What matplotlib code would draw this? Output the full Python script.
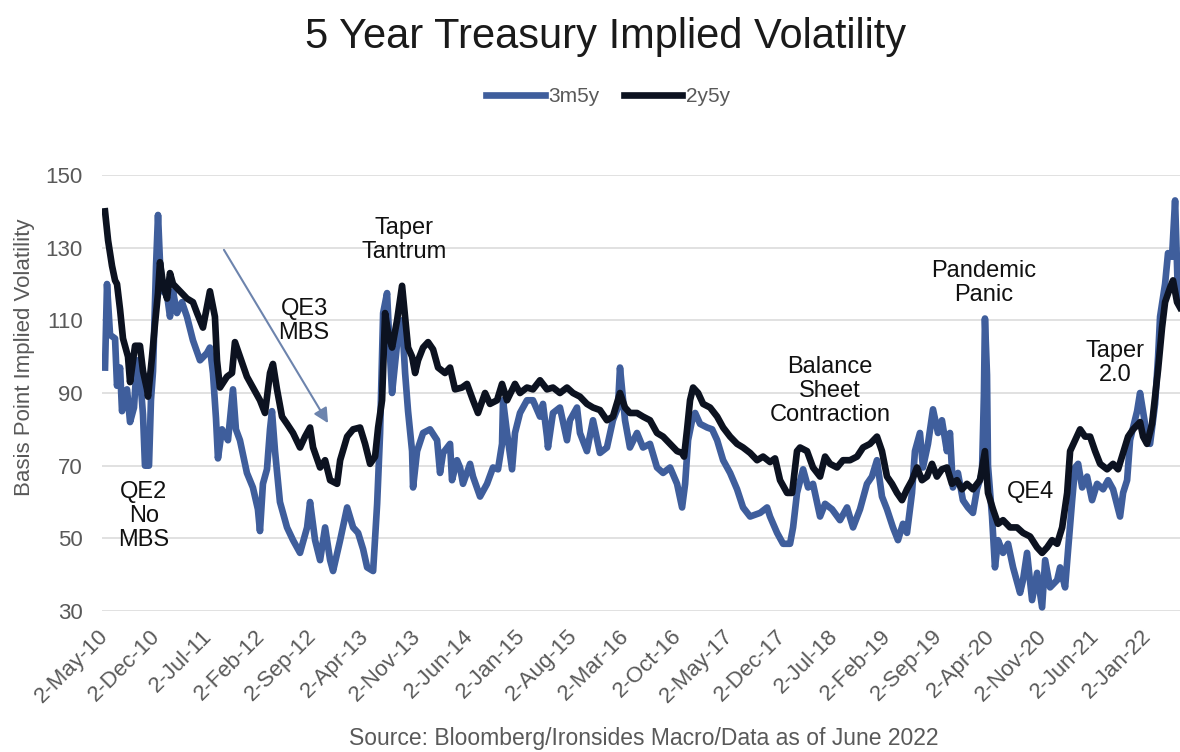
import matplotlib
matplotlib.use("Agg")
import matplotlib.pyplot as plt
from datetime import datetime
import pandas as pd

plt.rcParams['font.family'] = ['Liberation Sans', 'DejaVu Sans']

# ---- data -----------------------------------------------------------------
# 3m5y swaption implied vol (bp); time given as decimal year
t_3m5y = [2010.336, 2010.358, 2010.392, 2010.448, 2010.470, 2010.504, 2010.526, 2010.582,
          2010.616, 2010.660, 2010.694, 2010.727, 2010.761, 2010.783, 2010.828, 2010.850,
          2010.873, 2010.907, 2010.929, 2010.951, 2010.985, 2011.030, 2011.063, 2011.097,
          2011.141, 2011.197, 2011.253, 2011.320, 2011.399, 2011.477, 2011.510, 2011.544,
          2011.578, 2011.600, 2011.645, 2011.712, 2011.768, 2011.801, 2011.846, 2011.924,
          2011.991, 2012.047, 2012.070, 2012.103, 2012.148, 2012.182, 2012.204, 2012.238,
          2012.293, 2012.372, 2012.439, 2012.517, 2012.596, 2012.629, 2012.685, 2012.741,
          2012.797, 2012.853, 2012.886, 2012.965, 2013.043, 2013.110, 2013.166, 2013.222,
          2013.267, 2013.334, 2013.379, 2013.412, 2013.446, 2013.490, 2013.524, 2013.546,
          2013.602, 2013.658, 2013.692, 2013.725, 2013.770, 2013.781, 2013.826, 2013.893,
          2013.971, 2014.050, 2014.083, 2014.117, 2014.195, 2014.217, 2014.273, 2014.307,
          2014.340, 2014.419, 2014.452, 2014.531, 2014.609, 2014.676, 2014.732, 2014.777,
          2014.788, 2014.833, 2014.889, 2014.922, 2014.978, 2015.056, 2015.123, 2015.202,
          2015.235, 2015.280, 2015.291, 2015.347, 2015.425, 2015.504, 2015.537, 2015.616,
          2015.649, 2015.727, 2015.795, 2015.873, 2015.951, 2016.018, 2016.074, 2016.097,
          2016.153, 2016.208, 2016.287, 2016.354, 2016.432, 2016.510, 2016.578, 2016.656,
          2016.734, 2016.790, 2016.824, 2016.857, 2016.902, 2016.936, 2016.991, 2017.070,
          2017.126, 2017.182, 2017.249, 2017.327, 2017.405, 2017.472, 2017.551, 2017.663,
          2017.741, 2017.774, 2017.853, 2017.920, 2017.998, 2018.032, 2018.076, 2018.144,
          2018.200, 2018.255, 2018.334, 2018.390, 2018.468, 2018.557, 2018.636, 2018.703,
          2018.781, 2018.859, 2018.915, 2018.971, 2019.027, 2019.083, 2019.150, 2019.206,
          2019.262, 2019.307, 2019.363, 2019.396, 2019.452, 2019.486, 2019.542, 2019.587,
          2019.598, 2019.654, 2019.698, 2019.754, 2019.788, 2019.821, 2019.877, 2019.933,
          2019.989, 2020.045, 2020.090, 2020.146, 2020.168, 2020.179, 2020.202, 2020.213,
          2020.258, 2020.291, 2020.325, 2020.381, 2020.437, 2020.493, 2020.571, 2020.604,
          2020.649, 2020.705, 2020.761, 2020.817, 2020.851, 2020.906, 2020.985, 2021.018,
          2021.074, 2021.108, 2021.153, 2021.186, 2021.220, 2021.265, 2021.320, 2021.376,
          2021.432, 2021.499, 2021.555, 2021.611, 2021.689, 2021.723, 2021.768, 2021.801,
          2021.835, 2021.880, 2021.913, 2021.969, 2022.025, 2022.081, 2022.115, 2022.137,
          2022.193, 2022.226, 2022.271, 2022.305, 2022.338, 2022.361]
v_3m5y = [97, 120, 106, 105, 92, 97, 85, 91,
          82, 86, 99, 95, 84, 70, 70, 88,
          96, 125, 139, 126, 118, 117, 111, 118,
          112, 115, 111, 104.5, 99, 101, 102.5, 95.5,
          83, 72, 80, 77, 91, 80, 77, 68,
          64, 58, 52, 65, 69, 80, 85, 74,
          60, 53, 49.5, 46, 53, 60, 49.5, 44,
          53, 44, 41, 49.5, 58.5, 53, 51.5, 47,
          42, 41, 59.5, 79, 112, 117.5, 100, 90,
          103.5, 110, 95.5, 85, 74, 64, 74, 79,
          80, 77, 68, 73.5, 76, 66, 71.5, 69.5,
          65, 70.5, 67, 61.5, 65, 69.5, 69, 76,
          88, 79, 69, 79, 84.5, 88, 88, 83.5,
          87, 78, 75, 84.5, 86, 77, 82.5, 86,
          79, 74, 82.5, 73.5, 75, 82.5, 86, 97,
          82.5, 75, 79, 75, 76, 69.5, 68, 69.5,
          65, 58.5, 65, 77, 82.5, 84.5, 81.5, 80.5,
          80, 77, 71.5, 68, 63.5, 58.5, 56, 57,
          58.5, 56, 51.5, 48.5, 48.5, 53, 62.5, 69,
          64, 65, 56, 59.5, 58, 55, 58.5, 53,
          58, 65, 67, 71.5, 61.5, 58, 53, 49.5,
          54, 51.5, 62.5, 74, 79, 69.5, 76, 83.5,
          85.5, 79, 82.5, 74, 79, 64, 68, 60.5,
          58.5, 57, 63.5, 68, 90, 110.5, 95, 70,
          56, 42, 49.5, 46, 48.5, 42, 35, 38.5,
          46, 33, 40.5, 31, 44, 36.5, 38.5, 42,
          36.5, 47, 60.5, 69.5, 70.5, 64, 67, 60.5,
          65, 63.5, 66, 63.5, 56, 62.5, 66, 77,
          80.5, 85, 90, 81.5, 76, 87, 100, 111,
          120, 128.5, 127.5, 143, 116, 121]

# 2y5y swaption implied vol (bp)
t_2y5y = [2010.336, 2010.370, 2010.414, 2010.448, 2010.470, 2010.504, 2010.537, 2010.593,
          2010.616, 2010.672, 2010.727, 2010.761, 2010.806, 2010.817, 2010.862, 2010.895,
          2010.929, 2010.951, 2010.985, 2011.030, 2011.063, 2011.097, 2011.175, 2011.253,
          2011.320, 2011.366, 2011.399, 2011.432, 2011.510, 2011.566, 2011.589, 2011.622,
          2011.701, 2011.757, 2011.790, 2011.846, 2011.924, 2011.991, 2012.070, 2012.126,
          2012.182, 2012.215, 2012.260, 2012.316, 2012.372, 2012.439, 2012.517, 2012.573,
          2012.629, 2012.663, 2012.741, 2012.797, 2012.853, 2012.931, 2012.965, 2013.043,
          2013.110, 2013.188, 2013.244, 2013.300, 2013.356, 2013.390, 2013.434, 2013.468,
          2013.502, 2013.546, 2013.602, 2013.658, 2013.692, 2013.725, 2013.770, 2013.804,
          2013.837, 2013.893, 2013.949, 2014.005, 2014.061, 2014.139, 2014.195, 2014.251,
          2014.329, 2014.385, 2014.452, 2014.508, 2014.587, 2014.642, 2014.721, 2014.777,
          2014.833, 2014.922, 2014.978, 2015.056, 2015.123, 2015.202, 2015.280, 2015.347,
          2015.425, 2015.504, 2015.571, 2015.649, 2015.727, 2015.795, 2015.873, 2015.951,
          2016.018, 2016.097, 2016.153, 2016.208, 2016.287, 2016.354, 2016.432, 2016.510,
          2016.578, 2016.656, 2016.734, 2016.790, 2016.812, 2016.846, 2016.879, 2016.913,
          2016.969, 2017.025, 2017.103, 2017.182, 2017.249, 2017.327, 2017.405, 2017.472,
          2017.551, 2017.629, 2017.696, 2017.774, 2017.830, 2017.886, 2017.965, 2018.021,
          2018.076, 2018.110, 2018.188, 2018.255, 2018.334, 2018.390, 2018.446, 2018.524,
          2018.591, 2018.669, 2018.748, 2018.815, 2018.893, 2018.971, 2019.027, 2019.083,
          2019.139, 2019.195, 2019.251, 2019.307, 2019.363, 2019.419, 2019.475, 2019.531,
          2019.587, 2019.642, 2019.698, 2019.754, 2019.810, 2019.866, 2019.922, 2019.978,
          2020.045, 2020.123, 2020.179, 2020.213, 2020.269, 2020.325, 2020.381, 2020.459,
          2020.537, 2020.604, 2020.683, 2020.761, 2020.817, 2020.873, 2020.929, 2020.985,
          2021.041, 2021.097, 2021.130, 2021.186, 2021.242, 2021.298, 2021.354, 2021.410,
          2021.466, 2021.544, 2021.611, 2021.667, 2021.723, 2021.779, 2021.835, 2021.913,
          2021.947, 2021.991, 2022.047, 2022.081, 2022.115, 2022.159, 2022.193, 2022.249,
          2022.282, 2022.327, 2022.361]
v_2y5y = [140, 132, 125, 121, 120, 113, 105, 100,
          93, 103, 103, 96, 91, 89, 100, 109,
          117.5, 126, 120, 116, 123, 120, 118, 116,
          115, 112, 110, 108, 118, 111, 99, 91.5,
          94.5, 95.5, 104, 100, 94.5, 91.5, 88, 84.5,
          95.5, 98, 91, 83.5, 81.5, 79, 75, 78,
          80.5, 75, 69.5, 71.5, 66, 65, 71.5, 78,
          80, 80.5, 76, 70.5, 72.5, 80.5, 88, 112,
          106.5, 102.5, 110, 119.5, 111, 102.5, 100, 95.5,
          99, 102.5, 104, 102, 97, 95.5, 97, 91,
          91.5, 92.5, 88, 84.5, 90, 87, 88, 92.5,
          88, 92.5, 90, 91.5, 91, 93.5, 91, 91.5,
          90, 91.5, 90, 89, 87, 86, 85.3, 82.5,
          83.5, 90, 86, 84.5, 84.5, 83.5, 82.5, 79,
          78, 76, 74, 73.5, 72.5, 80, 88, 91.5,
          90, 87, 86, 83.5, 80.5, 78, 76, 75,
          73.5, 71.5, 72.5, 71, 72, 66, 62.5, 62.5,
          74, 75, 74, 69.5, 67, 72.5, 70.5, 69.5,
          71.5, 71.5, 72.5, 75, 76, 78, 74, 67,
          65, 62.5, 60.5, 63.5, 66, 69.5, 66, 67,
          70.5, 67, 69, 69.5, 65, 66, 63.5, 65,
          63.5, 66, 74, 62.5, 58, 54, 55, 53,
          53, 51.5, 50.5, 47.5, 46, 47.5, 49.5, 48.5,
          53, 62.5, 74, 77, 80, 78, 78, 74,
          70.5, 69, 70.5, 69, 73.5, 78, 80, 82,
          78, 76, 81.5, 89, 96.5, 108, 115, 119,
          121, 115, 113.5]

series_names = ['3m5y', '2y5y']
tick_labels = ['2-May-10', '2-Dec-10', '2-Jul-11', '2-Feb-12', '2-Sep-12', '2-Apr-13',
               '2-Nov-13', '2-Jun-14', '2-Jan-15', '2-Aug-15', '2-Mar-16', '2-Oct-16',
               '2-May-17', '2-Dec-17', '2-Jul-18', '2-Feb-19', '2-Sep-19', '2-Apr-20',
               '2-Nov-20', '2-Jun-21', '2-Jan-22']
y_ticks = [30, 50, 70, 90, 110, 130, 150]


def to_date(year):
    yr = int(year)
    start, end = datetime(yr, 1, 1), datetime(yr + 1, 1, 1)
    return start + (end - start) * (year - yr)


d_3m5y = [to_date(t) for t in t_3m5y]
d_2y5y = [to_date(t) for t in t_2y5y]
tick_dates = pd.to_datetime(tick_labels, format='%d-%b-%y')

# ---- figure ---------------------------------------------------------------
W, H = 1180, 752
fig = plt.figure(figsize=(W / 100, H / 100), dpi=100, facecolor='white')
ax = fig.add_axes([102 / W, 1 - 611 / H, (1190 - 102) / W, (611 - 175) / H])

BLUE = '#3F5E9C'
NAVY = '#0C1220'
GREY = '#595959'

l1, = ax.plot(d_3m5y, v_3m5y, color=BLUE, lw=4.8, solid_joinstyle='round', zorder=3)
l2, = ax.plot(d_2y5y, v_2y5y, color=NAVY, lw=4.8, solid_joinstyle='round', zorder=4)

ax.set_xlim(to_date(2010.302), to_date(2022.472))
ax.set_ylim(30, 150)
ax.set_yticks(y_ticks)
ax.yaxis.grid(True, color='#D9D9D9', lw=1.1)
ax.set_axisbelow(True)
for s in ax.spines.values():
    s.set_visible(False)

ax.set_xticks(tick_dates)
ax.set_xticklabels(tick_labels, rotation=45, ha='right', va='center',
                   rotation_mode='anchor')
ax.tick_params(axis='x', length=0, pad=16, labelsize=16, labelcolor=GREY)
ax.tick_params(axis='y', length=0, pad=14, labelsize=16, labelcolor=GREY)

fig.text(25 / W, 1 - 357 / H, 'Basis Point Implied Volatility', rotation=90,
         ha='center', va='center', fontsize=16, color=GREY)

fig.text(606 / W, 1 - 37 / H, '5 Year Treasury Implied Volatility',
         ha='center', va='center', fontsize=30, color='#1A1A1A')

fig.legend([l1, l2], series_names, loc='center', bbox_to_anchor=(608 / W, 1 - 97 / H),
           ncol=2, frameon=False, fontsize=15, handlelength=2.8, handletextpad=0.15,
           columnspacing=1.2, labelcolor=GREY)

fig.text(644 / W, 1 - 738 / H, 'Source: Bloomberg/Ironsides Macro/Data as of June 2022',
         ha='center', va='center', fontsize=16.5, color=GREY)

# event annotations
notes = [
    ('QE2\nNo\nMBS', 2010.772, 56.1),
    ('QE3\nMBS', 2012.562, 109.8),
    ('Taper\nTantrum', 2013.680, 132.1),
    ('Balance\nSheet\nContraction', 2018.446, 90.5),
    ('Pandemic\nPanic', 2020.168, 120.3),
    ('QE4', 2020.683, 62.7),
    ('Taper\n2.0', 2021.634, 98.3),
]
for txt, tx, ty in notes:
    ax.text(to_date(tx), ty, txt, ha='center', va='center', fontsize=17,
            color='#111111', linespacing=1.12, zorder=6)

ax.annotate('', xy=(to_date(2012.830), 81.7), xytext=(to_date(2011.667), 129.4),
            arrowprops=dict(arrowstyle='-|>', color='#6D84AD', lw=1.5,
                            mutation_scale=22, shrinkA=0, shrinkB=0), zorder=5)

fig.savefig('out.png', dpi=100, facecolor='white')
